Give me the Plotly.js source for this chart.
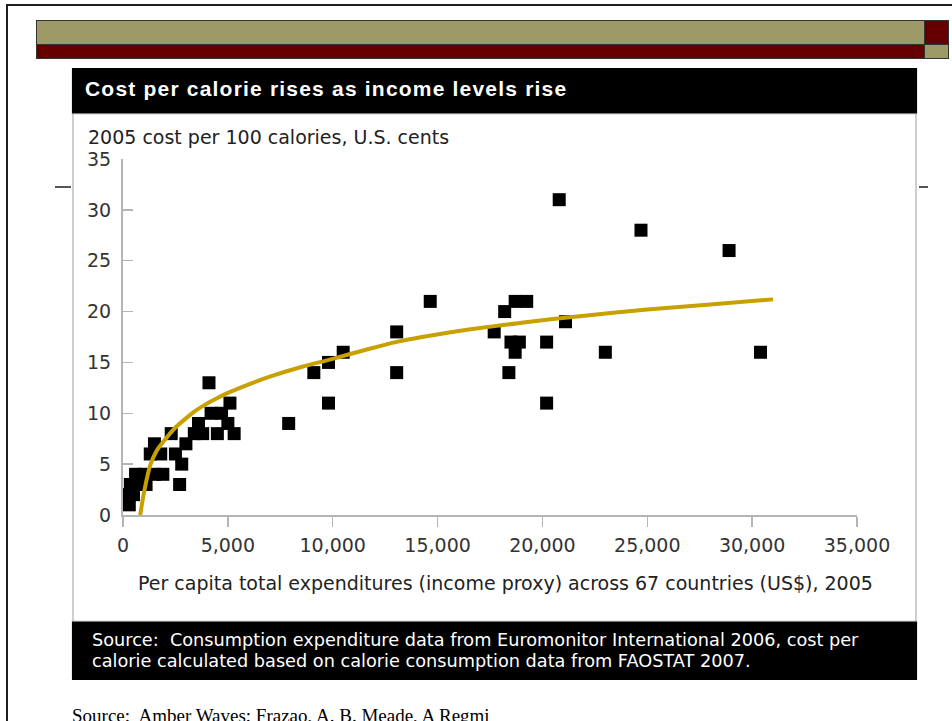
<!DOCTYPE html>
<html>
<head>
<meta charset="utf-8">
<script src="https://cdn.plot.ly/plotly-3.0.1.min.js"></script>
<style>
  html, body { margin:0; padding:0; background:#fff; width:952px; height:721px; overflow:hidden; position:relative; }
  .abs { position:absolute; }
  #frame { left:6px; top:4px; width:1000px; height:800px; border-left:2px solid #1e1e1e; border-top:2px solid #1e1e1e; }
  .bar { box-sizing:border-box; border:1px solid #333; }
  #card { left:72px; top:68px; width:845px; height:612px; background:#fff; box-sizing:border-box; border-left:2px solid #cfcfcf; border-right:2px solid #cfcfcf; }
  #titlebar { left:72px; top:68px; width:845px; height:45px; background:#000; box-shadow:0 1px 1px #777; }
  #titletext { left:85px; top:77px; color:#fff; font-family:"Liberation Sans", Arial, sans-serif; font-weight:bold; font-size:21px; letter-spacing:1.2px; white-space:nowrap; }
  #srcbar { left:72px; top:622px; width:845px; height:58px; background:#000; box-shadow:0 -1px 1px #777; }
  #srctext { left:92px; top:630px; color:#fff; font-family:"DejaVu Sans", sans-serif; font-size:17.7px; line-height:21px; white-space:nowrap; }
  #caption { left:72px; top:705px; color:#000; font-family:"Liberation Serif", "Times New Roman", serif; font-size:19px; white-space:nowrap; }
  #plot { left:0; top:0; width:952px; height:721px; }
</style>
</head>
<body>
<div id="frame" class="abs"></div>
<div class="abs bar" style="left:36px;top:20px;width:889px;height:25px;background:#9d9a68;"></div>
<div class="abs bar" style="left:36px;top:44px;width:889px;height:15px;background:#660000;"></div>
<div class="abs bar" style="left:924px;top:20px;width:25px;height:25px;background:#660000;"></div>
<div class="abs bar" style="left:924px;top:44px;width:25px;height:15px;background:#9d9a68;"></div>
<div class="abs" style="left:55px;top:186px;width:16px;height:2px;background:#555;"></div>
<div class="abs" style="left:919px;top:186px;width:9px;height:2px;background:#555;"></div>
<div id="card" class="abs"></div>
<div id="titlebar" class="abs"></div>
<div id="titletext" class="abs">Cost per calorie rises as income levels rise</div>
<div id="srcbar" class="abs"></div>
<div id="srctext" class="abs">Source:&nbsp; Consumption expenditure data from Euromonitor International 2006, cost per<br>calorie calculated based on calorie consumption data from FAOSTAT 2007.</div>
<div id="caption" class="abs">Source:&nbsp; Amber Waves; Frazao, A. B. Meade, A Regmi</div>
<div id="plot" class="abs"></div>
<script>
// Per capita total expenditures (US$), 2005
const expenditure = [
  300, 300, 350, 500, 600, 700, 1000,
  1100, 1500, 1900, 1300, 1500, 1800, 2300, 2500, 2700, 2800, 3000,
  3400, 3600, 3800, 4100, 4200, 4700, 4500, 5000, 5100, 5300,
  7900, 9100, 9800, 9800, 10500, 13050, 13050, 14650,
  17700, 18200, 18400, 18500, 18900, 18700, 18700, 19250,
  20200, 20200, 20800, 21100, 23000, 24700, 28900, 30400
];
// 2005 cost per 100 calories, U.S. cents
const costPer100Cal = [
  1, 2, 3, 2, 4, 3, 4,
  3, 4, 4, 6, 7, 6, 8, 6, 3, 5, 7,
  8, 9, 8, 13, 10, 10, 8, 9, 11, 8,
  9, 14, 15, 11, 16, 18, 14, 21,
  18, 20, 14, 17, 17, 16, 21, 21,
  17, 11, 31, 19, 16, 28, 26, 16
];
// Fitted trend curve
const trendX = [820, 1000, 1300, 1600, 2000, 2500, 3000, 3500, 4000, 4500, 5000, 6000, 7000, 8500, 10000, 11500, 13000, 16000, 19000, 22000, 25000, 28000, 31000];
const trendY = [0, 2.2, 4.9, 6.3, 7.4, 8.6, 9.5, 10.3, 10.95, 11.5, 12.0, 12.85, 13.6, 14.55, 15.35, 16.2, 17.0, 18.1, 18.9, 19.6, 20.2, 20.7, 21.2];

const xTicks = [0, 5000, 10000, 15000, 20000, 25000, 30000, 35000];
const xTickText = ["0", "5,000", "10,000", "15,000", "20,000", "25,000", "30,000", "35,000"];
const yTicks = [0, 5, 10, 15, 20, 25, 30, 35];

const yTitle = "2005 cost per 100 calories, U.S. cents";
const xTitle = "Per capita total expenditures (income proxy) across 67 countries (US$), 2005";

const tickFont = { family: "DejaVu Sans, sans-serif", size: 19, color: "#333" };
const axisCommon = {
  showgrid: false, zeroline: false, showline: true,
  linecolor: "#b5b5b5", linewidth: 2,
  tickcolor: "#b5b5b5", tickwidth: 1.5, ticklen: 10,
  tickfont: tickFont, fixedrange: true
};

const data = [
  {
    x: expenditure, y: costPer100Cal, type: "scatter", mode: "markers",
    marker: { symbol: "square", size: 13, color: "#000", line: { width: 0 } },
    cliponaxis: false, hoverinfo: "skip"
  },
  {
    x: trendX, y: trendY, type: "scatter", mode: "lines",
    line: { color: "#c8a000", width: 4, shape: "spline", smoothing: 0.8 },
    cliponaxis: false, hoverinfo: "skip"
  }
];

const layout = {
  width: 952, height: 721,
  margin: { l: 122.7, r: 94.7, t: 159.3, b: 205.5, pad: 0 },
  paper_bgcolor: "rgba(0,0,0,0)", plot_bgcolor: "rgba(0,0,0,0)",
  showlegend: false,
  xaxis: Object.assign({}, axisCommon, {
    range: [0, 35000], tickmode: "array", tickvals: xTicks, ticktext: xTickText,
    ticks: "outside", ticklabelstandoff: 2
  }),
  yaxis: Object.assign({}, axisCommon, {
    range: [0, 35], tickmode: "array", tickvals: yTicks, ticktext: yTicks.map(String),
    ticks: "inside", ticklabelstandoff: 6
  }),
  annotations: [
    { text: yTitle, xref: "paper", yref: "paper", x: -0.051, y: 1.0617,
      xanchor: "left", yanchor: "middle", showarrow: false,
      font: { family: "DejaVu Sans, sans-serif", size: 19, color: "#222" } },
    { text: xTitle, xref: "paper", yref: "paper", x: 0.521, y: -0.192,
      xanchor: "center", yanchor: "middle", showarrow: false,
      font: { family: "DejaVu Sans, sans-serif", size: 19, color: "#222" } }
  ]
};

Plotly.newPlot("plot", data, layout, { displayModeBar: false, staticPlot: true });
</script>
</body>
</html>
